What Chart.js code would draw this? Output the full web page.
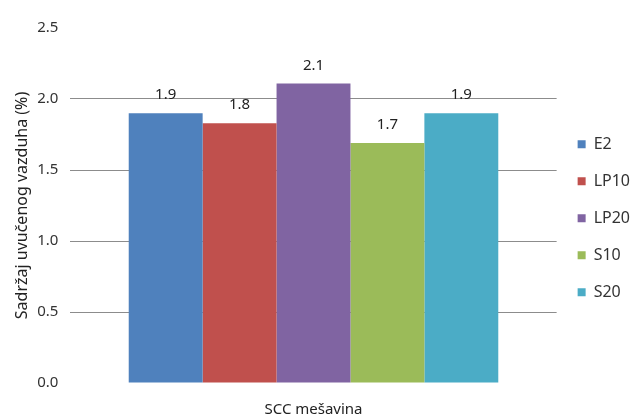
<!DOCTYPE html>
<html>
<head>
<meta charset="utf-8">
<script src="https://cdn.jsdelivr.net/npm/chart.js@4.4.0/dist/chart.umd.min.js"></script>
<style>
  html, body { margin: 0; padding: 0; background: #fff; }
  #wrap { position: relative; width: 642px; height: 415px; }
</style>
</head>
<body>
<div id="wrap"><canvas id="chart"></canvas></div>
<script>
// podaci sa grafika
const categories = ['SCC mešavina'];
const mixes = ['E2', 'LP10', 'LP20', 'S10', 'S20'];
const values = [1.9, 1.83, 2.11, 1.69, 1.9];
const colors = ['#4F81BD', '#C0504D', '#8064A2', '#9BBB59', '#4BACC6'];
const yTicks = [0, 0.5, 1.0, 1.5, 2.0, 2.5];

const font = "'Noto Sans', sans-serif";

// ispisuje vrednost iznad svakog stubca
const valueLabels = {
  id: 'valueLabels',
  afterDatasetsDraw(chart) {
    const ctx = chart.ctx;
    ctx.save();
    ctx.font = '15px ' + font;
    ctx.fillStyle = '#222';
    ctx.textAlign = 'center';
    ctx.textBaseline = 'middle';
    chart.data.datasets.forEach((ds, i) => {
      const bar = chart.getDatasetMeta(i).data[0];
      ctx.fillText(ds.data[0].toFixed(1), bar.x, bar.y - 18);
    });
    ctx.restore();
  }
};

new Chart(document.getElementById('chart'), {
  type: 'bar',
  data: {
    labels: categories,
    datasets: mixes.map((m, i) => ({
      label: m,
      data: [values[i]],
      backgroundColor: colors[i],
      borderWidth: 0,
      barPercentage: 1,
      categoryPercentage: 0.76
    }))
  },
  options: {
    responsive: true,
    maintainAspectRatio: false,
    animation: false,
    layout: { padding: { left: 13, top: 28, right: 2, bottom: -22 } },
    plugins: {
      legend: {
        position: 'right',
        align: 'start',
        // prazan naslov samo spusta stavke legende
        title: { display: true, text: ' ', padding: 34, font: { family: font, size: 16 } },
        labels: {
          boxWidth: 8,
          boxHeight: 8,
          padding: 21,
          color: '#333',
          font: { family: font, size: 16 }
        }
      },
      tooltip: { enabled: false }
    },
    scales: {
      x: {
        grid: { display: false, drawTicks: false },
        border: { display: false },
        ticks: { padding: 18, color: '#222', font: { family: font, size: 15 } }
      },
      y: {
        min: 0,
        max: 2.5,
        afterBuildTicks: axis => { axis.ticks = yTicks.map(v => ({ value: v })); },
        border: { display: false },
        grid: {
          drawTicks: false,
          color: c => (c.tick.value === 0 || c.tick.value === 2.5) ? 'rgba(0,0,0,0)' : '#8c8c8c'
        },
        ticks: {
          padding: 12,
          color: '#333',
          font: { family: font, size: 15 },
          callback: v => Number(v).toFixed(1)
        },
        title: {
          display: true,
          text: 'Sadržaj uvučenog vazduha (%)',
          color: '#222',
          padding: { top: 0, bottom: -7 },
          font: { family: font, size: 16 }
        }
      }
    }
  },
  plugins: [valueLabels]
});
</script>
</body>
</html>
